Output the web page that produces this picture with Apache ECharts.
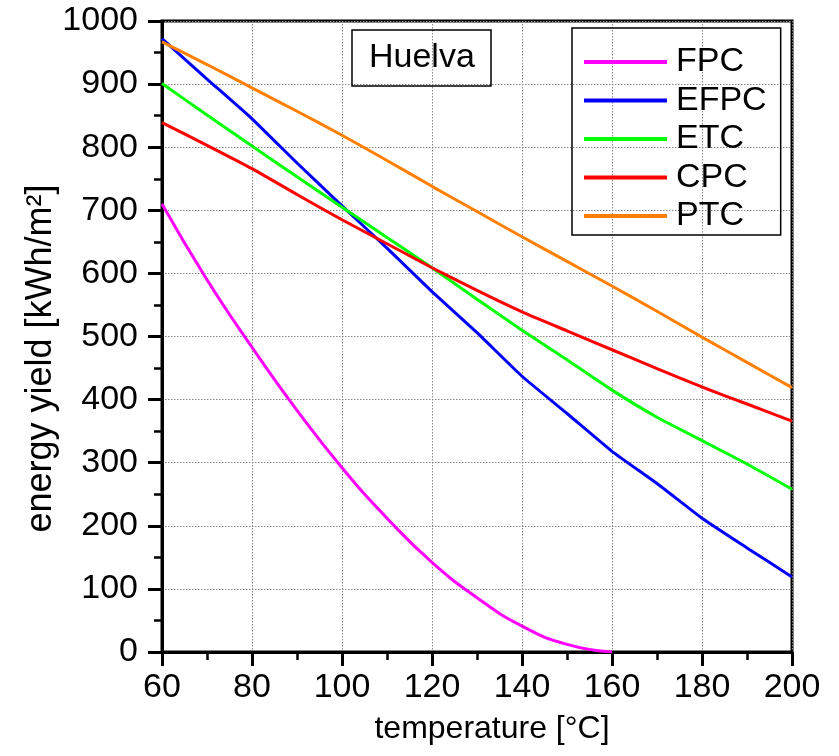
<!DOCTYPE html>
<html>
<head>
<meta charset="utf-8">
<script src="https://cdn.jsdelivr.net/npm/echarts@6/dist/echarts.min.js"></script>
<style>
html,body{margin:0;padding:0;background:#fff;}
#chart{width:839px;height:756px;}
</style>
</head>
<body>
<div id="chart"></div>
<script>
const temperatures = [60, 70, 80, 90, 100, 110, 120, 130, 140, 150, 160, 170, 180, 190, 200];
const seriesNames = ['FPC', 'EFPC', 'ETC', 'CPC', 'PTC'];
const fpc  = [710, 590, 483, 383, 292, 212, 142, 86, 41, 12, 0];
const efpc = [972, 908, 845, 775, 707, 640, 571, 506, 437, 378, 318, 267, 212, 165, 119];
const etc  = [901, 851, 802, 753, 705, 657, 609, 559, 510, 463, 415, 372, 335, 298, 258];
const cpc  = [839, 803, 766, 725, 685, 647, 609, 573, 539, 509, 479, 449, 420, 393, 366];
const ptc  = [967, 931, 894, 857, 819, 779, 738, 698, 658, 619, 580, 540, 499, 459, 419];
const xTicks = [60, 80, 100, 120, 140, 160, 180, 200];
const yTicks = [0, 100, 200, 300, 400, 500, 600, 700, 800, 900, 1000];
const siteName = 'Huelva';

const colors = ['#ff00ff', '#0000ff', '#00ff00', '#ff0000', '#ff8000'];
const values = [fpc, efpc, etc, cpc, ptc];
const FONT = 'Liberation Sans, Arial, sans-serif';
const FS = 34;

const chart = echarts.init(document.getElementById('chart'), null, {renderer: 'canvas'});
chart.setOption({
  animation: false,
  backgroundColor: '#fff',
  textStyle: {fontFamily: FONT, color: '#000'},
  title: {
    text: siteName,
    left: 352, top: 30,
    padding: [11, 16, 11, 17],
    borderColor: '#000', borderWidth: 1.5,
    textStyle: {fontFamily: FONT, fontSize: FS, fontWeight: 'normal', color: '#000'}
  },
  legend: {
    orient: 'vertical',
    left: 572, top: 28,
    padding: [17, 14, 2, 12],
    itemGap: 4.5,
    itemWidth: 83, itemHeight: 4,
    icon: 'rect',
    borderColor: '#000', borderWidth: 1.5,
    textStyle: {fontFamily: FONT, fontSize: FS, color: '#000', padding: [0, 0, 0, 4]},
    data: seriesNames
  },
  grid: {
    left: 162, top: 21, width: 630, height: 631,
    show: true, borderColor: '#000', borderWidth: 3, backgroundColor: 'transparent'
  },
  xAxis: {
    type: 'value', min: xTicks[0], max: xTicks[xTicks.length - 1], interval: 20,
    name: 'temperature [°C]', nameLocation: 'middle', nameGap: 61,
    nameMoveOverlap: false,
    nameTextStyle: {fontFamily: FONT, fontSize: 32, color: '#000', padding: [0, 0, 0, 30]},
    axisLine: {lineStyle: {color: '#000', width: 3}},
    axisTick: {show: true, length: 14, lineStyle: {color: '#000', width: 3}},
    minorTick: {show: true, splitNumber: 2, length: 8, lineStyle: {color: '#000', width: 2.5}},
    axisLabel: {fontFamily: FONT, fontSize: FS, color: '#000', margin: 19},
    splitLine: {show: true, lineStyle: {color: '#888', width: 1, type: [1.5, 1.5]}}
  },
  yAxis: {
    type: 'value', min: yTicks[0], max: yTicks[yTicks.length - 1], interval: 100,
    name: 'energy yield [kWh/m²]', nameLocation: 'middle', nameGap: 103,
    nameMoveOverlap: false,
    nameTextStyle: {fontFamily: FONT, fontSize: 36, color: '#000', padding: [0, 44, 0, 0]},
    axisLine: {lineStyle: {color: '#000', width: 3}},
    axisTick: {show: true, length: 14, lineStyle: {color: '#000', width: 3}},
    minorTick: {show: true, splitNumber: 2, length: 8, lineStyle: {color: '#000', width: 2.5}},
    axisLabel: {fontFamily: FONT, fontSize: FS, color: '#000', margin: 24, formatter: v => String(v)},
    splitLine: {show: true, lineStyle: {color: '#888', width: 1, type: [1.5, 1.5]}}
  },
  series: seriesNames.map((name, i) => ({
    name: name,
    type: 'line',
    data: values[i].map((v, j) => [temperatures[j], v]),
    showSymbol: false,
    symbol: 'none',
    smooth: i === 0 ? 0.5 : 0.15,
    color: colors[i],
    lineStyle: {color: colors[i], width: 3},
    z: 3
  }))
});
</script>
</body>
</html>
